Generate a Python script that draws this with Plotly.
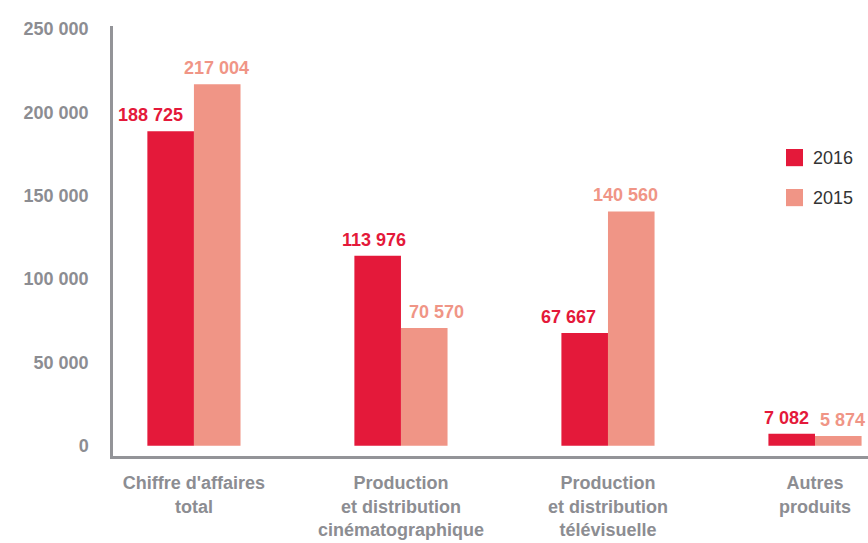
import plotly.graph_objects as go

# Chiffre d'affaires par activité (en milliers d'euros)
categories = [
    "Chiffre d'affaires<br>total",
    "Production<br>et distribution<br>cinématographique",
    "Production<br>et distribution<br>télévisuelle",
    "Autres<br>produits",
]
values_2016 = [188725, 113976, 67667, 7082]
values_2015 = [217004, 70570, 140560, 5874]
y_ticks = [0, 50000, 100000, 150000, 200000, 250000]
series_names = ["2016", "2015"]

RED = "#E4193A"
SALMON = "#F09586"
GREY = "#8C8D92"
AXIS = "#939498"

# horizontal offsets (px) of the value labels from the category centres
label_dx_2016 = [-43, -27, -39, -29]
label_dx_2015 = [23, 36, 18, 27]


def fmt(v):
    return f"{v:,}".replace(",", " ")


fig = go.Figure()
fig.add_trace(go.Bar(x=categories, y=values_2016, name=series_names[0],
                     marker=dict(color=RED, line=dict(width=0)), showlegend=False))
fig.add_trace(go.Bar(x=categories, y=values_2015, name=series_names[1],
                     marker=dict(color=SALMON, line=dict(width=0)), showlegend=False))

# value labels above each bar
annotations = []
for vals, color, offsets in ((values_2016, RED, label_dx_2016),
                             (values_2015, SALMON, label_dx_2015)):
    for cat, v, dx in zip(categories, vals, offsets):
        annotations.append(dict(
            x=cat, y=v, xref="x", yref="y", text=fmt(v), showarrow=False,
            xshift=dx, yshift=16, yanchor="middle",
            font=dict(family="Liberation Sans, Arial", size=18, color=color, weight="bold"),
        ))

# legend drawn as squares with labels
shapes = []
legend_rows = [(series_names[0], RED, 0.714, 0.674), (series_names[1], SALMON, 0.621, 0.581)]
for name, color, y1, y0 in legend_rows:
    shapes.append(dict(type="rect", xref="paper", yref="paper",
                       x0=0.8914, x1=0.9139, y0=y0, y1=y1,
                       fillcolor=color, line=dict(width=0)))
    annotations.append(dict(x=0.9245, y=(y0 + y1) / 2, xref="paper", yref="paper",
                            text=name, showarrow=False, xanchor="left", yanchor="middle",
                            font=dict(family="Liberation Sans, Arial", size=18, color="#333333")))

fig.update_layout(
    width=868, height=543,
    margin=dict(l=113, r=0, t=26, b=87),
    paper_bgcolor="white", plot_bgcolor="white",
    barmode="group", bargap=0.55, bargroupgap=0,
    separators=", ",
    annotations=annotations, shapes=shapes,
    showlegend=False,
)
fig.update_xaxes(
    type="category", range=[-0.391, 3.256],
    showline=True, linecolor=AXIS, linewidth=2.5,
    showgrid=False, zeroline=False, ticks="",
    ticklabelstandoff=9,
    tickfont=dict(family="Liberation Sans, Arial", size=18, color=GREY, weight="bold"),
)
fig.update_yaxes(
    range=[-6200, 251900],
    tickvals=y_ticks, ticktext=[fmt(t) for t in y_ticks],
    showline=True, linecolor=AXIS, linewidth=2.5,
    showgrid=False, zeroline=False, ticks="",
    ticklabelstandoff=18,
    tickfont=dict(family="Liberation Sans, Arial", size=18, color=GREY, weight="bold"),
)

fig.write_html("out.html")
